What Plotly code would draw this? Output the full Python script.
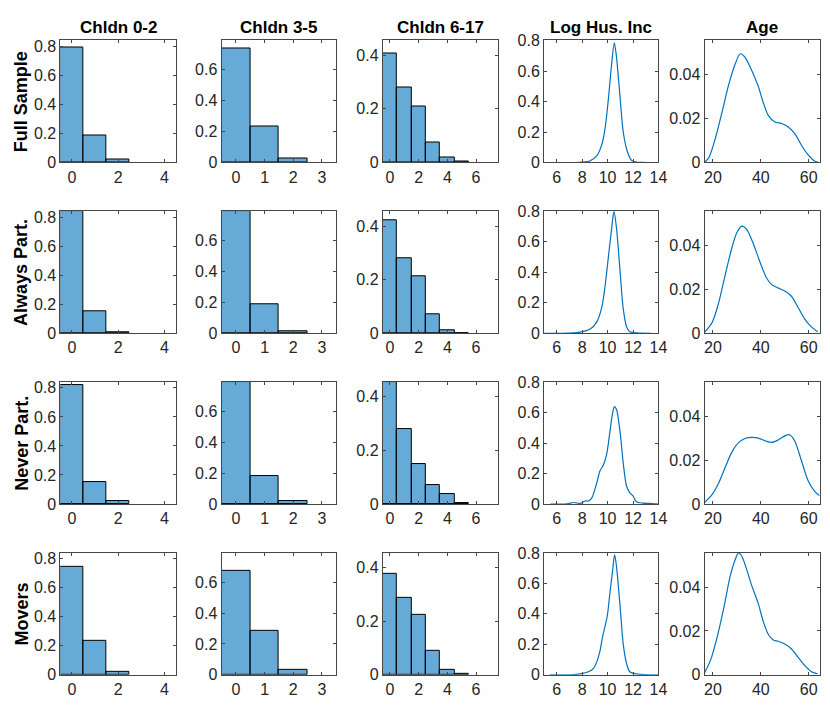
import plotly.graph_objects as go

# ---------------- data ----------------
row_labels = ["Full Sample", "Always Part.", "Never Part.", "Movers"]
col_titles = ["Chldn 0-2", "Chldn 3-5", "Chldn 6-17", "Log Hus. Inc", "Age"]

k02_bins = [0, 1, 2]
k02_full = [0.790, 0.188, 0.018]
k02_always = [0.840, 0.152, 0.006]
k02_never = [0.822, 0.152, 0.022]
k02_movers = [0.745, 0.235, 0.018]

k35_bins = [0, 1, 2]
k35_full = [0.740, 0.230, 0.025]
k35_always = [0.790, 0.190, 0.015]
k35_never = [0.790, 0.180, 0.020]
k35_movers = [0.675, 0.288, 0.032]

k617_bins = [0, 1, 2, 3, 4, 5]
k617_full = [0.405, 0.280, 0.210, 0.075, 0.017, 0.004]
k617_always = [0.420, 0.280, 0.213, 0.070, 0.011, 0.0]
k617_never = [0.455, 0.280, 0.150, 0.070, 0.037, 0.003]
k617_movers = [0.378, 0.289, 0.225, 0.088, 0.019, 0.004]

inc_full_x = [5.0, 6.5, 7.5, 8.0, 8.6, 9.15, 9.54, 9.8, 10.06, 10.32, 10.53, 10.7, 10.97, 11.23, 11.54, 11.87, 12.26, 13.0, 14.0]
inc_full_y = [0.0, 0.0, 0.0, 0.002, 0.010, 0.043, 0.117, 0.224, 0.416, 0.650, 0.785, 0.690, 0.437, 0.200, 0.075, 0.015, 0.003, 0.0, 0.0]
inc_always_x = [5.0, 6.5, 7.85, 8.63, 9.15, 9.54, 9.8, 10.06, 10.32, 10.5, 10.7, 10.97, 11.23, 11.49, 11.74, 12.3, 13.45]
inc_always_y = [0.0, 0.0, 0.008, 0.028, 0.075, 0.170, 0.310, 0.500, 0.690, 0.800, 0.690, 0.416, 0.160, 0.043, 0.010, 0.002, 0.0]
inc_never_x = [5.5, 6.8, 7.33, 7.85, 8.24, 8.5, 8.76, 9.15, 9.41, 9.67, 9.93, 10.19, 10.37, 10.53, 10.7, 10.97, 11.23, 11.49, 11.74, 12.0, 12.26, 12.78, 13.3, 14.0]
inc_never_y = [0.0, 0.002, 0.010, 0.004, 0.020, 0.020, 0.040, 0.140, 0.220, 0.256, 0.330, 0.480, 0.587, 0.640, 0.620, 0.480, 0.267, 0.117, 0.075, 0.053, 0.015, 0.006, 0.004, 0.0]
inc_movers_x = [5.44, 7.07, 7.85, 8.5, 8.89, 9.15, 9.41, 9.59, 9.8, 9.98, 10.19, 10.4, 10.55, 10.7, 10.97, 11.23, 11.49, 11.74, 12.26, 13.3, 14.0]
inc_movers_y = [0.0, 0.0, 0.006, 0.020, 0.043, 0.085, 0.160, 0.245, 0.320, 0.390, 0.544, 0.690, 0.790, 0.710, 0.460, 0.200, 0.075, 0.020, 0.006, 0.0, 0.0]

age_full_x = [16.5, 18.3, 21.0, 23.8, 26.6, 29.3, 31.4, 33.4, 36.2, 38.9, 41.0, 43.1, 45.8, 48.6, 51.3, 54.1, 56.9, 59.6, 62.4, 64.2]
age_full_y = [0.0, 0.0022, 0.011, 0.023, 0.0356, 0.045, 0.0496, 0.048, 0.042, 0.0348, 0.0274, 0.0215, 0.0185, 0.0178, 0.0163, 0.0133, 0.008, 0.0037, 0.0007, 0.0]
age_always_x = [16.5, 19.7, 22.4, 25.2, 27.9, 30.0, 32.1, 34.1, 36.9, 39.6, 42.4, 44.5, 47.2, 50.0, 52.7, 55.5, 58.2, 61.0, 63.7]
age_always_y = [0.0004, 0.005, 0.014, 0.027, 0.039, 0.046, 0.0489, 0.0474, 0.0407, 0.0326, 0.0252, 0.0222, 0.0207, 0.0193, 0.017, 0.0119, 0.0067, 0.003, 0.0007]
age_never_x = [16.5, 19.7, 22.4, 25.2, 27.9, 30.7, 33.4, 36.2, 38.9, 41.7, 44.5, 47.2, 50.0, 52.0, 54.1, 56.9, 59.6, 62.4, 64.5]
age_never_y = [0.0007, 0.0044, 0.0096, 0.017, 0.0237, 0.028, 0.0299, 0.0304, 0.0301, 0.0289, 0.0281, 0.0292, 0.0311, 0.0316, 0.0289, 0.020, 0.011, 0.0059, 0.0038]
age_movers_x = [16.5, 19.0, 21.7, 24.5, 27.2, 29.3, 30.7, 32.1, 34.1, 36.2, 38.9, 41.0, 43.1, 45.2, 47.2, 50.0, 52.7, 55.5, 58.2, 61.0, 63.7]
age_movers_y = [0.001, 0.0067, 0.017, 0.0304, 0.045, 0.0526, 0.0556, 0.054, 0.048, 0.0407, 0.0326, 0.0244, 0.0185, 0.0159, 0.0153, 0.0141, 0.0119, 0.0081, 0.0044, 0.0015, 0.0004]

k02_ticks = [0, 2, 4]
k35_ticks = [0, 1, 2, 3]
k617_ticks = [0, 2, 4, 6]
inc_ticks = [6, 8, 10, 12, 14]
age_ticks = [20, 40, 60]

# ---------------- figure ----------------
W, H = 830, 705
col_left = [61, 224, 387, 550, 712.3]
col_right = [178, 340, 503, 665.7, 828.5]
row_top = [33.3, 208.3, 383.3, 558.3]
row_height = 125


def px_x(X):
    return X / W


def px_y(Y):
    return 1 - Y / H


BAR_COLOR = "rgba(0,114,189,0.6)"
LINE_COLOR = "rgb(0,114,189)"
AX_COLOR = "rgb(38,38,38)"
FONT = "Liberation Sans, Arial, Helvetica, sans-serif"

hist_cols = [
    (k02_bins, [k02_full, k02_always, k02_never, k02_movers], [-0.5, 4.5], k02_ticks, [0, 0.2, 0.4, 0.6, 0.8]),
    (k35_bins, [k35_full, k35_always, k35_never, k35_movers], [-0.5, 3.5], k35_ticks, [0, 0.2, 0.4, 0.6, 0.8]),
    (k617_bins, [k617_full, k617_always, k617_never, k617_movers], [-0.5, 7.5], k617_ticks, [0, 0.2, 0.4]),
]
dens_cols = [
    ([(inc_full_x, inc_full_y), (inc_always_x, inc_always_y), (inc_never_x, inc_never_y), (inc_movers_x, inc_movers_y)],
     [5, 14], inc_ticks, [0, 0.2, 0.4, 0.6, 0.8], 0.8),
    ([(age_full_x, age_full_y), (age_always_x, age_always_y), (age_never_x, age_never_y), (age_movers_x, age_movers_y)],
     [16.5, 64.5], age_ticks, [0, 0.02, 0.04], None),
]

fig = go.Figure()
layout = dict(
    width=W, height=H, margin=dict(l=0, r=0, t=0, b=0),
    paper_bgcolor="white", plot_bgcolor="white", showlegend=False,
    font=dict(family=FONT, size=16, color=AX_COLOR),
    bargap=0,
)


def axis_common():
    return dict(showline=True, linecolor="rgb(70,70,70)", linewidth=1, mirror="ticks",
                ticks="inside", ticklen=3, tickwidth=1, tickcolor="rgb(70,70,70)",
                showgrid=False, zeroline=False, tickfont=dict(family=FONT, size=16, color=AX_COLOR),
                fixedrange=True)


for r in range(4):
    for c in range(5):
        idx = r * 5 + c + 1
        xs = "x" if idx == 1 else f"x{idx}"
        ys = "y" if idx == 1 else f"y{idx}"
        xa = axis_common()
        ya = axis_common()
        xa.update(domain=[px_x(col_left[c]), px_x(col_right[c])], anchor=ys)
        ya.update(domain=[px_y(row_top[r] + row_height), px_y(row_top[r])], anchor=xs)
        if c < 3:
            bins, series, xr, xt, yt = hist_cols[c]
            ymax = max(max(s) for s in series)
            fig.add_trace(go.Bar(x=bins, y=series[r], width=1, xaxis=xs, yaxis=ys,
                                 marker=dict(color=BAR_COLOR, line=dict(color="black", width=1))))
            yr = [0, ymax]
        else:
            curves, xr, xt, yt, ytop = dens_cols[c - 3]
            cx, cy = curves[r]
            ymax = ytop if ytop is not None else max(max(cv[1]) for cv in curves)
            fig.add_trace(go.Scatter(x=cx, y=cy, mode="lines", xaxis=xs, yaxis=ys,
                                     line=dict(color=LINE_COLOR, width=1.2, shape="spline", smoothing=0.8)))
            yr = [0, ymax * 1.001]
        xa.update(range=xr, tickvals=xt)
        ya.update(range=yr, tickvals=yt)
        layout["xaxis" if idx == 1 else f"xaxis{idx}"] = xa
        layout["yaxis" if idx == 1 else f"yaxis{idx}"] = ya

annotations = []
for c, t in enumerate(col_titles):
    annotations.append(dict(text=f"<b>{t}</b>", x=px_x((col_left[c] + col_right[c]) / 2), y=px_y(20),
                            xref="paper", yref="paper", showarrow=False, xanchor="center", yanchor="middle",
                            font=dict(family=FONT, size=17, color="black")))
for r, t in enumerate(row_labels):
    annotations.append(dict(text=f"<b>{t}</b>", x=px_x(22), y=px_y(row_top[r] + row_height / 2),
                            xref="paper", yref="paper", showarrow=False, xanchor="center", yanchor="middle",
                            textangle=-90, font=dict(family=FONT, size=18, color="black")))
layout["annotations"] = annotations

fig.update_layout(**layout)

# keep the page exactly the size of the figure (no body margin, nothing spilling over)
page_fix = (
    "var d=document.documentElement, b=document.body;"
    "d.style.margin='0px'; b.style.margin='0px';"
    "d.style.overflow='hidden'; b.style.overflow='hidden';"
    "var g=document.getElementById('{plot_id}');"
    "if(g){g.style.overflow='hidden';"
    "var s=g.querySelectorAll('.main-svg'); for(var i=0;i<s.length;i++){s[i].style.overflow='hidden';}"
    "var p=g.parentElement; if(p){p.style.overflow='hidden'; p.style.width='830px'; p.style.height='705px';}}"
)
fig.write_html("out.html", config={"displayModeBar": False}, post_script=page_fix)
